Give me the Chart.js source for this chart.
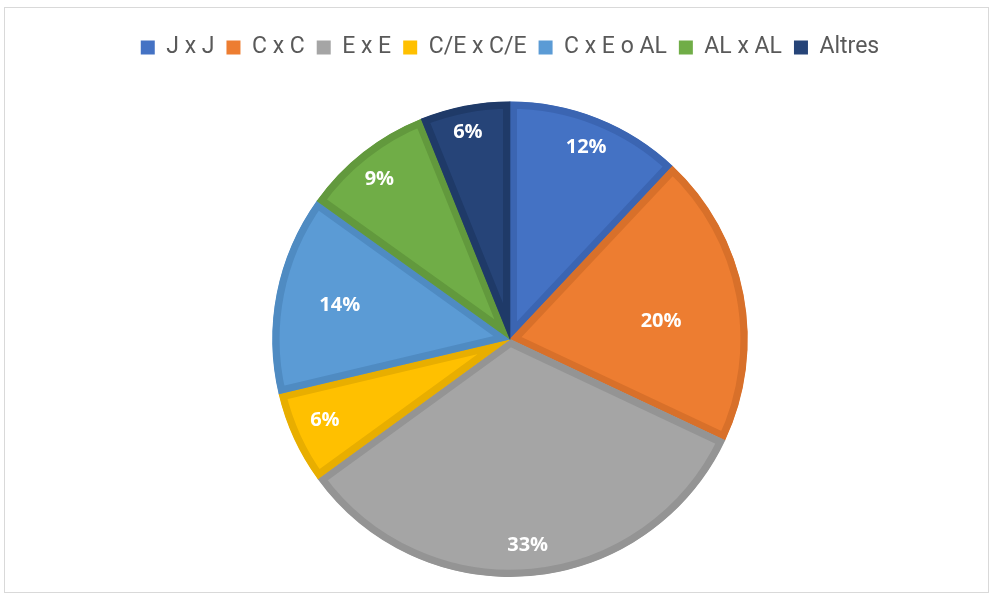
<!DOCTYPE html>
<html>
<head>
<meta charset="utf-8">
<script src="https://cdn.jsdelivr.net/npm/chart.js@4/dist/chart.umd.min.js"></script>
<style>
  html, body { margin: 0; padding: 0; background: #fff; }
  #wrap { position: relative; width: 990px; height: 599px; }
  #frame { position: absolute; left: 4px; top: 7px; width: 983px; height: 584px; border: 1px solid #d9d9d9; pointer-events: none; }
  canvas { position: absolute; left: 0; top: 0; }
</style>
</head>
<body>
<div id="wrap">
  <canvas id="c" width="990" height="599"></canvas>
  <div id="frame"></div>
</div>
<script>
const categories = ["J x J", "C x C", "E x E", "C/E x C/E", "C x E o AL", "AL x AL", "Altres"];
const values = [12, 20, 33, 6.3, 13.6, 9, 6.1];
const displayLabels = ["12%", "20%", "33%", "6%", "14%", "9%", "6%"];

const fillColors = ["#4472C4", "#ED7D31", "#A5A5A5", "#FFC000", "#5B9BD5", "#70AD47", "#264478"];
const edgeColors = ["#3B65B2", "#D8702A", "#949494", "#E8AE00", "#4F8BC2", "#62993D", "#1F3A68"];
// per-slice label placement (fraction of radius, angle shift in degrees)
const labelPlace = [[0.87, 0], [0.64, 4], [0.87, 0.5], [0.85, 1], [0.73, 0], [0.87, -1], [0.89, -0.5]];

const legendSpacer = {
  id: 'legendSpacer',
  beforeInit(chart) {
    const orig = chart.legend.fit;
    chart.legend.fit = function () {
      orig.call(this);
      this.height += 32.5;
    };
  }
};

const labelPlugin = {
  id: 'sliceLabels',
  afterDatasetsDraw(chart) {
    const ctx = chart.ctx;
    const meta = chart.getDatasetMeta(0);
    ctx.save();
    ctx.font = 'bold 20px "Open Sans", sans-serif';
    ctx.fillStyle = '#ffffff';
    ctx.textAlign = 'center';
    ctx.textBaseline = 'middle';
    meta.data.forEach((arc, i) => {
      const p = arc.getProps(['x', 'y', 'startAngle', 'endAngle', 'outerRadius'], true);
      const mid = (p.startAngle + p.endAngle) / 2 + labelPlace[i][1] * Math.PI / 180;
      const r = p.outerRadius * labelPlace[i][0];
      ctx.fillText(displayLabels[i], p.x + Math.cos(mid) * r, p.y + Math.sin(mid) * r);
    });
    ctx.restore();
  }
};

new Chart(document.getElementById('c'), {
  type: 'pie',
  data: {
    labels: categories,
    datasets: [{
      data: values,
      backgroundColor: fillColors,
      borderColor: edgeColors,
      borderWidth: 7,
      borderAlign: 'inner',
      hoverOffset: 0
    }]
  },
  options: {
    responsive: false,
    animation: false,
    events: [],
    layout: { padding: { left: 30, right: 0, top: 24, bottom: 22 } },
    plugins: {
      legend: {
        position: 'top',
        labels: {
          boxWidth: 14,
          boxHeight: 14,
          padding: 12,
          color: '#595959',
          font: { family: 'Roboto, sans-serif', size: 23 },
          generateLabels(chart) {
            return Chart.overrides.pie.plugins.legend.labels.generateLabels(chart).map(l => {
              l.lineWidth = 0;
              l.strokeStyle = 'rgba(0,0,0,0)';
              return l;
            });
          }
        }
      },
      tooltip: { enabled: false }
    }
  },
  plugins: [legendSpacer, labelPlugin]
});
</script>
</body>
</html>
